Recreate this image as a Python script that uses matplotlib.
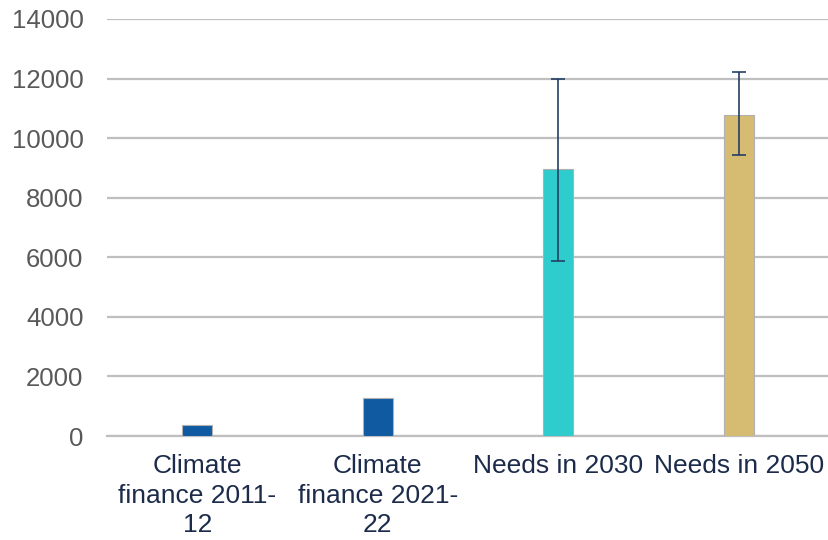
import matplotlib.pyplot as plt
import numpy as np

plt.rcParams['font.family'] = ['Liberation Sans', 'DejaVu Sans']

categories = ['Climate\nfinance 2011-\n12', 'Climate\nfinance 2021-\n22',
              'Needs in 2030', 'Needs in 2050']
values = [370, 1275, 8960, 10770]
err_low = [np.nan, np.nan, 5890, 9430]
err_high = [np.nan, np.nan, 12000, 12220]
colors = ['#0F5AA0', '#0F5AA0', '#2ECCCC', '#D5BC72']

fig = plt.figure(figsize=(8.29, 5.4), dpi=100)
ax = fig.add_axes([107 / 829, 104 / 540, 722 / 829, 417 / 540])

x = np.arange(len(categories))
ax.bar(x, values, width=0.166, color=colors, edgecolor='#B0B0B0', linewidth=0.8, zorder=3)

vals = np.array(values, dtype=float)
yerr = np.array([vals - np.array(err_low), np.array(err_high) - vals])
ax.errorbar(x, vals, yerr=yerr, fmt='none', ecolor='#243F63', elinewidth=1.2,
            capsize=5, capthick=1.2, zorder=4)

ax.set_xlim(-0.5, 3.5)
ax.set_ylim(0, 14000)
ax.set_yticks(range(0, 14001, 2000))
ax.set_xticks(x)
ax.set_xticklabels(categories, fontsize=19, color='#1C2B4A', linespacing=1.3)
ax.tick_params(axis='y', labelsize=18.5, labelcolor='#595959', length=0, pad=17)
ax.tick_params(axis='x', length=0, pad=13)

ax.grid(axis='y', color='#BFBFBF', linewidth=1.6, zorder=0)
for s in ['top', 'right', 'left']:
    ax.spines[s].set_visible(False)
ax.spines['bottom'].set_color('#BFBFBF')
ax.spines['bottom'].set_linewidth(1.6)

fig.savefig('out.png', dpi=100)
